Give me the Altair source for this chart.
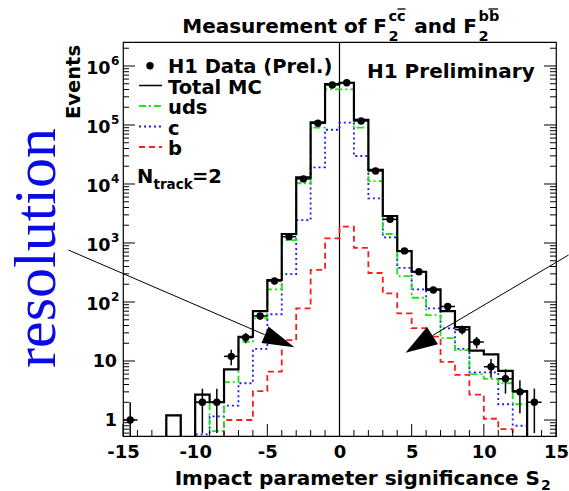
import altair as alt
import pandas as pd

# ---- binned impact-parameter significance, unit-width bins from -15 to 15 ----
bin_lo = list(range(-15, 15))

total_mc = [0, 0, 0, 1.2, 0, 2.7, 2.0, 7.2, 25.8, 70, 236, 1420, 13000, 111000, 495000,
            520000, 122000, 17300, 2870, 730, 326, 164, 70, 37.5, 15, 13, 6.8, 3.1, 0, 0]
uds = [0, 0, 0, 1.2, 0, 2.0, 0.65, 4.4, 21.2, 52.7, 164, 1120, 10300, 90000, 400000,
       400000, 90000, 11200, 1420, 275, 118, 60, 24.5, 15.3, 6.0, 5.0, 4.2, 1.85, 0, 0]
charm = [0, 0, 0, 0, 0, 0.57, 1.15, 1.75, 4.2, 16, 62, 298, 2450, 19200, 83000,
         110000, 29800, 5700, 1250, 380, 164, 78, 35.8, 16, 6.4, 6.4, 1.85, 0.8, 0, 0]
beauty = [0, 0, 0, 0, 0, 0, 0, 1.0, 1.0, 3.1, 6.6, 22.6, 78, 350, 1200,
          1890, 830, 310, 140, 64, 36, 26, 9.7, 5.8, 2.7, 1.05, 0.7, 0, 0, 0]

# ---- H1 data points (bin centre, events, statistical error) ----
data_x = [-14.5, -9.5, -8.5, -7.5, -6.5, -5.5, -4.5, -3.5, -2.5, -1.5, -0.5, 0.5, 1.5,
          2.5, 3.5, 4.5, 5.5, 6.5, 7.5, 8.5, 9.5, 10.5, 11.5, 12.5, 13.5]
data_n = [1, 2, 2, 12, 25, 58, 227, 1280, 12200, 107000, 477000, 521000, 117000,
          16600, 2520, 735, 326, 160, 84, 34, 21, 8, 5, 3, 2]
data_err = [1.0, 1.4, 1.4, 3.5, 5.0, 7.6, 15, 36, 110, 330, 690, 720, 340,
            130, 50, 27, 18, 13, 9.2, 5.8, 4.6, 2.8, 2.2, 1.7, 1.4]

# axis decoration
x_label_values = [-15, -10, -5, 0, 5, 10, 15]
decades = [1, 10, 100, 1e3, 1e4, 1e5, 1e6]
decade_base = ["1", "10", "10", "10", "10", "10", "10"]
decade_exp = ["", "", "2", "3", "4", "5", "6"]

W, H = 433, 394
Y_MIN, Y_MAX = 0.536, 2.55e6
FLOOR = 0.05          # empty bins are drawn below the frame and clipped
FONT = "DejaVu Sans"

x_scale = alt.Scale(domain=[-15, 15], nice=False, zero=False)
y_scale = alt.Scale(type="log", domain=[Y_MIN, Y_MAX], nice=False)
x_axis = alt.Axis(values=x_label_values, ticks=False, domain=False, grid=False,
                  labelFont=FONT, labelFontWeight="bold", labelFontSize=18,
                  labelColor="black", labelPadding=7, labelFlush=False,
                  labelOverlap=False, labelExpr="'' + datum.value", title=None)


def X(field):
    return alt.X(field, type="quantitative", scale=x_scale, axis=x_axis)


def Y(field):
    return alt.Y(field, type="quantitative", scale=y_scale, axis=None)


def hist_layer(values, color, width, dash=None):
    xs = bin_lo + [15]
    ys = list(values) + [values[-1]]
    df = pd.DataFrame({"x": xs, "y": [v if v > 0 else FLOOR for v in ys]})
    kw = dict(interpolate="step-after", clip=True, color=color, strokeWidth=width)
    if dash:
        kw["strokeDash"] = dash
    return alt.Chart(df).mark_line(**kw).encode(x=X("x"), y=Y("y"))


one = alt.Data(values=[{}])


def label(text, x, y, size, align="left", font=FONT, weight="bold", color="black",
          angle=0, baseline="alphabetic"):
    mk = dict(text=text, fontSize=size, font=font, fontWeight=weight, color=color,
              align=align, baseline=baseline)
    if angle:
        mk["angle"] = angle
    return alt.Chart(one).mark_text(**mk).encode(x=alt.value(x), y=alt.value(y))


def seg(x1, y1, x2, y2, width=1.0, color="black"):
    return alt.Chart(one).mark_rule(color=color, strokeWidth=width).encode(
        x=alt.value(x1), y=alt.value(y1), x2=alt.value(x2), y2=alt.value(y2))


layers = []

# vertical line at zero
layers.append(alt.Chart(pd.DataFrame({"x": [0]})).mark_rule(color="black", strokeWidth=1.2)
              .encode(x=X("x"), y=alt.value(0), y2=alt.value(H)))

# MC histograms
layers.append(hist_layer(beauty, "#ff1a1a", 1.8, [6, 4]))
layers.append(hist_layer(charm, "#1a1aff", 1.8, [2, 3]))
layers.append(hist_layer(uds, "#19e619", 1.8, [7, 3, 2, 3]))
layers.append(hist_layer(total_mc, "black", 2.2))

# data with error bars
dd = pd.DataFrame({"x": data_x, "n": data_n, "err": data_err})
dd["lo"] = (dd["n"] - dd["err"]).clip(lower=FLOOR)
dd["hi"] = dd["n"] + dd["err"]
dd["xl"] = dd["x"] - 0.5
dd["xr"] = dd["x"] + 0.5
base_d = alt.Chart(dd)
layers.append(base_d.mark_rule(color="black", strokeWidth=1.5, clip=True)
              .encode(x=X("x"), y=Y("lo"), y2="hi"))
layers.append(base_d.mark_rule(color="black", strokeWidth=1.5)
              .encode(x=X("xl"), x2="xr", y=Y("n")))
layers.append(base_d.mark_point(filled=True, color="black", opacity=1, size=55)
              .encode(x=X("x"), y=Y("n")))

# inward-pointing ticks (left, right, bottom)
y_major, y_minor = [], []
for k in range(-1, 7):
    for m in range(1, 10):
        v = m * 10.0 ** k
        if Y_MIN <= v <= Y_MAX:
            (y_major if m == 1 else y_minor).append(v)
for vals, ln in ((y_major, 12), (y_minor, 6)):
    tdf = alt.Chart(pd.DataFrame({"v": vals}))
    layers.append(tdf.mark_rule(color="black", strokeWidth=1)
                  .encode(y=Y("v"), x=alt.value(0), x2=alt.value(ln)))
    layers.append(tdf.mark_rule(color="black", strokeWidth=1)
                  .encode(y=Y("v"), x=alt.value(W), x2=alt.value(W - ln)))
x_major = [v for v in range(-15, 16) if v % 5 == 0]
x_minor = [v for v in range(-15, 16) if v % 5 != 0]
for vals, ln in ((x_major, 12), (x_minor, 6)):
    layers.append(alt.Chart(pd.DataFrame({"v": vals})).mark_rule(color="black", strokeWidth=1)
                  .encode(x=X("v"), y=alt.value(H), y2=alt.value(H - ln)))

# y tick labels (powers of ten)
ylab = pd.DataFrame({"v": decades, "base": decade_base, "exp": decade_exp})
ylab_c = alt.Chart(ylab)
layers.append(ylab_c.transform_filter("datum.exp == ''")
              .mark_text(font=FONT, fontWeight="bold", fontSize=17.5, align="right",
                         baseline="middle", dy=1, color="black")
              .encode(y=Y("v"), x=alt.value(-6), text="base:N"))
layers.append(ylab_c.transform_filter("datum.exp != ''")
              .mark_text(font=FONT, fontWeight="bold", fontSize=17.5, align="right",
                         baseline="middle", dy=3, color="black")
              .encode(y=Y("v"), x=alt.value(-12.5), text="base:N"))
layers.append(ylab_c.transform_filter("datum.exp != ''")
              .mark_text(font=FONT, fontWeight="bold", fontSize=12, align="left",
                         baseline="middle", dy=-5, color="black")
              .encode(y=Y("v"), x=alt.value(-12), text="exp:N"))

# legend
legend_x_text = 45
layers.append(alt.Chart(one).mark_point(filled=True, color="black", opacity=1, size=55)
              .encode(x=alt.value(27), y=alt.value(23.7)))
layers.append(label("H1 Data (Prel.)", legend_x_text, 31, 19.5))
layers.append(seg(16, 43.5, 39, 43.5, 1.5))
layers.append(label("Total MC", legend_x_text, 51.5, 19.5))
layers.append(alt.Chart(one).mark_rule(color="#19e619", strokeWidth=1.8, strokeDash=[7, 3, 2, 3])
              .encode(x=alt.value(16), x2=alt.value(39), y=alt.value(64)))
layers.append(label("uds", legend_x_text, 72, 19.5))
layers.append(alt.Chart(one).mark_rule(color="#1a1aff", strokeWidth=1.8, strokeDash=[2, 3])
              .encode(x=alt.value(16), x2=alt.value(39), y=alt.value(84.5)))
layers.append(label("c", legend_x_text, 92.5, 19.5))
layers.append(alt.Chart(one).mark_rule(color="#ff1a1a", strokeWidth=1.8, strokeDash=[6, 4])
              .encode(x=alt.value(16), x2=alt.value(39), y=alt.value(105)))
layers.append(label("b", legend_x_text, 113, 19.5))

# N_track = 2
layers.append(label("N", 14, 140.7, 19.5))
layers.append(label("track", 30.5, 146.5, 13.5))
layers.append(label("=2", 69, 140.7, 19.5))

layers.append(label("H1 Preliminary", 244, 36.3, 20))

# title: Measurement of F2^{c cbar} and F2^{b bbar}
layers.append(label("Measurement of F", 264, -8.7, 20, align="right"))
layers.append(label("2", 265.5, -1.5, 14.5))
layers.append(label("cc", 265.5, -21, 14.5))
layers.append(seg(274.5, -33, 282.5, -33, 1.3))
layers.append(label("and F", 354, -8.7, 20, align="right"))
layers.append(label("2", 355.5, -1.5, 14.5))
layers.append(label("bb", 355.5, -21, 14.5))
layers.append(seg(365.5, -33, 375, -33, 1.3))

# axis titles
layers.append(label("Impact parameter significance S", 417, 443, 20, align="right"))
layers.append(label("2", 418, 447.5, 14))
layers.append(label("Events", -43, 3, 19.5, align="right", angle=270))

# side annotation
layers.append(label("resolution", -68, 206, 60, align="center", font="Liberation Serif",
                    weight="normal", color="#0a0ae6", angle=270))

# arrows pointing at the resolution tails
arrow_x0 = [-18.78, 15.87]
arrow_y0 = [760, 626]
arrow_x1 = [-5.18, 6.44]
arrow_y1 = [27.9, 27.0]
adf = pd.DataFrame({"x0": arrow_x0, "y0": arrow_y0, "x1": arrow_x1, "y1": arrow_y1})
layers.append(alt.Chart(adf).mark_rule(color="black", strokeWidth=1, clip=False)
              .encode(x=X("x0"), y=Y("y0"), x2="x1", y2="y1"))
layers.append(alt.Chart(pd.DataFrame({"x": [-4.14], "y": [21.8]}))
              .mark_point(shape="M1,0L-1,-0.56L-1,0.56Z", filled=True, color="black",
                          opacity=1, size=1024, angle=23)
              .encode(x=X("x"), y=Y("y")))
layers.append(alt.Chart(pd.DataFrame({"x": [5.51], "y": [19.3]}))
              .mark_point(shape="M1,0L-1,-0.64L-1,0.64Z", filled=True, color="black",
                          opacity=1, size=1024, angle=147.5)
              .encode(x=X("x"), y=Y("y")))

chart = alt.layer(*layers).properties(
    width=W, height=H,
    autosize=alt.AutoSizeParams(type="none"),
    padding={"left": 123, "top": 42, "right": 13, "bottom": 55},
    background="white",
).configure_view(stroke="black", strokeWidth=1.2)

chart.save("out.html", embed_options={"renderer": "svg", "actions": False})
